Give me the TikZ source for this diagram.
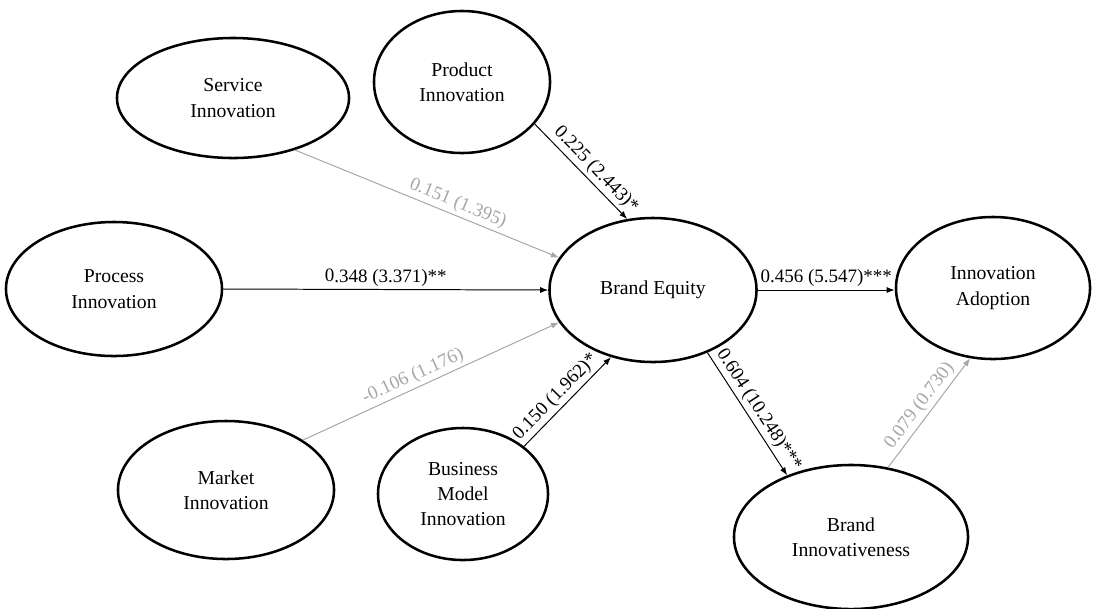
\documentclass[tikz,border=0pt]{standalone}
\usepackage{fontspec}
\setmainfont{Liberation Serif}
\usetikzlibrary{arrows.meta,shapes.geometric}

\begin{document}
\begin{tikzpicture}[x=0.025cm,y=-0.025cm,>={Latex[length=2mm,width=1.5mm]},
  font=\fontsize{14}{18}\selectfont,
  construct/.style={ellipse,draw,line width=1.8pt,inner sep=0pt,align=center},
  sig/.style={->,line width=0.7pt},
  nonsig/.style={->,line width=0.7pt,black!35},
  coef/.style={sloped,above,inner sep=2pt,font=\fontsize{13.5}{16}\selectfont}]
\useasboundingbox (0,0) rectangle (1095,608);
% constructs
\node[construct,minimum width=5.8cm,minimum height=3.0cm] (svc) at (233,98) {Service\\Innovation};
\node[construct,minimum width=4.4cm,minimum height=3.55cm] (prod) at (462,82) {Product\\Innovation};
\node[construct,minimum width=5.4cm,minimum height=3.35cm] (proc) at (114,289) {Process\\Innovation};
\node[construct,minimum width=5.4cm,minimum height=3.45cm] (mkt) at (226,490) {Market\\Innovation};
\node[construct,minimum width=4.25cm,minimum height=3.3cm] (bmi) at (463,494) {Business\\Model\\Innovation};
\node[construct,minimum width=5.175cm,minimum height=3.6cm] (be) at (653,290) {Brand Equity};
\node[construct,minimum width=4.85cm,minimum height=3.55cm] (ia) at (993,288) {Innovation\\Adoption};
\node[construct,minimum width=5.85cm,minimum height=3.6cm] (bi) at (851,537) {Brand\\Innovativeness};
% paths
\draw[nonsig] (svc.-40) -- (be.161) node[coef,pos=0.6]{0.151 (1.395)};
\draw[sig] (prod.-30) -- (be.110) node[coef,pos=0.57]{0.225 (2.443)*};
\draw[sig] (proc.east) -- (be.west) node[coef,pos=0.5]{0.348 (3.371)**};
\draw[nonsig] (mkt.33) -- (be.199) node[coef,pos=0.45]{-0.106 (1.176)};
\draw[sig] (bmi.38) -- (be.238) node[coef,pos=0.46]{0.150 (1.962)*};
\draw[sig] (be.east) -- (ia.west |- be.east) node[coef,pos=0.5]{0.456 (5.547)***};
\draw[sig] (be.-49) -- (bi.136) node[coef,pos=0.52]{0.604 (10.248)***};
\draw[nonsig] (bi.62) -- (ia.-108) node[coef,pos=0.5]{0.079 (0.730)};
\end{tikzpicture}
\end{document}
